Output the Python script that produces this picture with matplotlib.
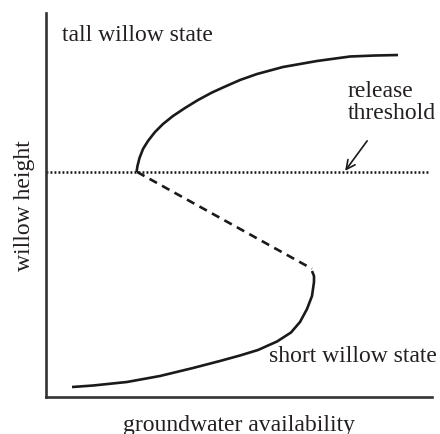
import matplotlib
matplotlib.use("Agg")
import matplotlib.pyplot as plt

plt.rcParams['font.family'] = ['Liberation Serif', 'DejaVu Serif']

# Data (arbitrary units)
tall_x = [2.345, 2.370, 2.422, 2.513, 2.642, 2.824, 3.031, 3.290, 3.601, 3.938,
          4.301, 4.585, 5.026, 5.466, 6.140, 7.021, 7.876, 8.523, 9.119]
tall_y = [5.859, 6.016, 6.224, 6.458, 6.667, 6.901, 7.109, 7.318, 7.526, 7.734,
          7.930, 8.060, 8.255, 8.411, 8.594, 8.750, 8.867, 8.893, 8.906]

unstable_x = [2.36, 6.89]
unstable_y = [5.86, 3.34]

short_x = [6.891, 6.943, 6.943, 6.891, 6.762, 6.580, 6.347, 5.984, 5.492, 5.026,
           4.508, 3.808, 2.953, 2.098, 1.218, 0.674]
short_y = [3.281, 3.151, 2.995, 2.630, 2.292, 1.953, 1.680, 1.445, 1.224, 1.081,
           0.938, 0.755, 0.547, 0.391, 0.299, 0.260]

threshold_y = 5.86
threshold_x = [0.0, 9.95]

arrow_tail = (8.32, 6.67)
arrow_tip = (7.75, 5.89)

ink = '#1a1a1a'
txt = '#231f20'

fig = plt.figure(figsize=(4.4, 4.35), dpi=100)
ax = fig.add_axes([46/440, 1-398/435, 386/440, 384/435])
ax.set_xlim(0, 10)
ax.set_ylim(0, 10)

ax.plot(tall_x, tall_y, color=ink, lw=1.9, solid_capstyle='butt', solid_joinstyle='round')
ax.plot(short_x, short_y, color=ink, lw=1.9, solid_capstyle='butt', solid_joinstyle='round')
ax.plot(unstable_x, unstable_y, color=ink, lw=1.9, linestyle=(0, (3.2, 2.2)))
ax.plot(threshold_x, [threshold_y, threshold_y], color='#111111', lw=1.8,
        linestyle=(0, (0.75, 0.85)))

ax.annotate('', xy=arrow_tip, xytext=arrow_tail,
            arrowprops=dict(arrowstyle='->', color=ink, lw=1.2,
                            mutation_scale=16, shrinkA=0, shrinkB=0))

ax.text(0.41, 9.45, 'tall willow state', fontsize=17, color=txt, va='center', ha='left')
ax.text(7.82, 7.70, 'release\nthreshold', fontsize=17, color=txt, va='center', ha='left',
        linespacing=1.05)
ax.text(5.78, 1.07, 'short willow state', fontsize=17, color=txt, va='center', ha='left')

ax.set_xlabel('groundwater availability', fontsize=17, color=txt, labelpad=12)
ax.set_ylabel('willow height', fontsize=17, color=txt, labelpad=8)

for s in ['top', 'right']:
    ax.spines[s].set_visible(False)
for s in ['left', 'bottom']:
    ax.spines[s].set_color('#333333')
    ax.spines[s].set_linewidth(1.9)
ax.set_xticks([])
ax.set_yticks([])

fig.savefig('out.png', dpi=100)
